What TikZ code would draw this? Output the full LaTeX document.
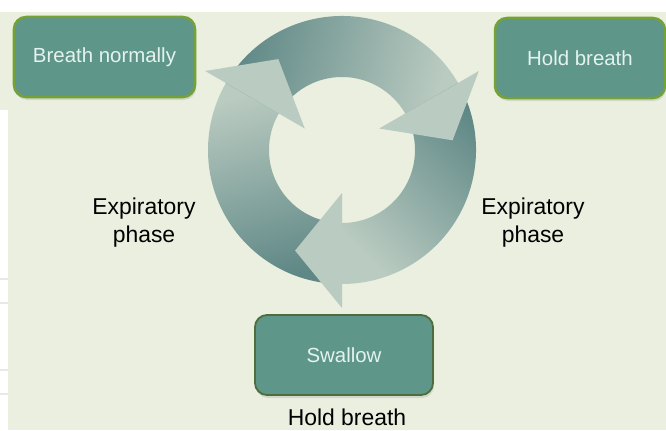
\documentclass[tikz,border=0pt]{standalone}
\usepackage{fontspec}
\setmainfont{Liberation Sans}
\usepackage{tikz}
\usetikzlibrary{positioning,calc,shadows}
\usepackage{xcolor}
\definecolor{bgpaper}{HTML}{EAEFDF}
\definecolor{boxteal}{HTML}{5F968A}
\definecolor{boxedge}{HTML}{74A236}
\definecolor{boxedgedark}{HTML}{4E6D3C}
\definecolor{boxtext}{HTML}{E4F3EE}
\definecolor{ringdark}{HTML}{5E8785}
\definecolor{ringlight}{HTML}{BACBC1}

\begin{document}
\begin{tikzpicture}[x=1bp, y=1bp,
  phasebox/.style={draw=boxedge, line width=2.5bp, fill=boxteal,
    rounded corners=12bp, minimum width=181bp, minimum height=80bp,
    text=boxtext, font=\fontsize{20.5}{24}\selectfont,
    drop shadow={shadow xshift=1bp, shadow yshift=-3bp, opacity=0.2}},
  phaselabel/.style={align=center, text=black, inner sep=0pt,
    font=\fontsize{23}{28}\selectfont},
  arrowhead/.style={fill=ringlight}
]
\useasboundingbox (0,0) rectangle (666,430);

% Background (screenshot margins)
\fill[white] (0,0) rectangle (666,430);
\fill[bgpaper] (0,0) rectangle (666,418);
\fill[white] (0,0) rectangle (8,320);
\foreach \yy in {151,127,60,36}
  \draw[gray!18, line width=1.5bp] (0,\yy) -- (8,\yy);

% Cycle of three arrows
\coordinate (ctr) at (342,280);
\foreach \b/\sa in {150/-165, 30/75, -90/-45} {
  \shade[left color=ringdark, right color=ringlight, shading angle=\sa]
    ($(ctr)+(\b+120:134)$) arc[start angle=\b+120, end angle=\b, radius=134]
    -- ($(ctr)+(\b:73)$) arc[start angle=\b, end angle=\b+120, radius=73]
    -- cycle;
}
\foreach \b in {150,30,-90}
  \fill[arrowhead] ($(ctr)+(\b:158)$) -- ($(ctr)+(\b-25:111)$)
    -- ($(ctr)+(\b:43)$) -- cycle;

% Steps
\node[phasebox] (breath) at (104.5,373) {Breath normally};
\node[phasebox, minimum width=170bp] (hold) at (580,372) {Hold breath};
\node[phasebox, draw=boxedgedark, line width=1.8bp, minimum width=178bp]
  (swallow) at (344,75) {Swallow};

% Phase labels
\node[phaselabel] (expleft) at (144,207) {Expiratory\\phase};
\node[phaselabel] (expright) at (533,207) {Expiratory\\phase};
\node[phaselabel, anchor=base] (holdlabel) at (347,5) {Hold breath};

\end{tikzpicture}
\end{document}
